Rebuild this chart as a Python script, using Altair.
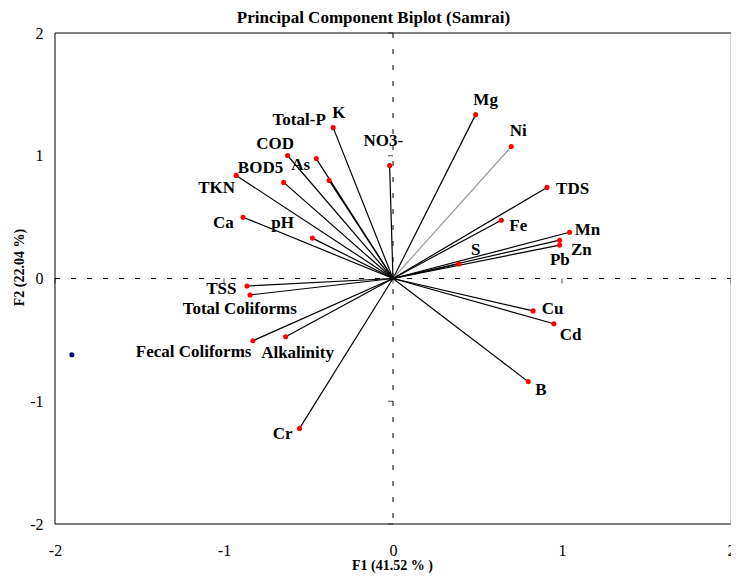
import altair as alt
import pandas as pd

# ---- data ----
names = ["K", "Total-P", "As", "COD", "BOD5", "TKN", "Ca", "pH", "NO3-",
         "Mg", "Ni", "TDS", "Fe", "Mn", "Zn", "Pb", "S",
         "TSS", "Total Coliforms", "Fecal Coliforms", "Alkalinity", "Cr",
         "Cu", "Cd", "B"]
f1 = [-0.354, -0.454, -0.378, -0.624, -0.647, -0.928, -0.887, -0.477, -0.020,
      0.489, 0.700, 0.911, 0.641, 1.045, 0.986, 0.986, 0.389,
      -0.864, -0.846, -0.829, -0.635, -0.553,
      0.829, 0.952, 0.800]
f2 = [1.229, 0.977, 0.799, 1.002, 0.783, 0.840, 0.499, 0.329, 0.921,
      1.335, 1.075, 0.742, 0.475, 0.377, 0.312, 0.272, 0.118,
      -0.061, -0.134, -0.507, -0.475, -1.221,
      -0.264, -0.369, -0.840]
label_f1 = [-0.321, -0.555, -0.546, -0.698, -0.784, -1.044, -1.004, -0.653, -0.057,
            0.548, 0.741, 1.063, 0.741, 1.151, 1.114, 0.987, 0.489,
            -1.016, -0.907, -1.180, -0.565, -0.653,
            0.944, 1.051, 0.876]
label_f2 = [1.351, 1.292, 0.923, 1.094, 0.897, 0.737, 0.450, 0.450, 1.121,
            1.451, 1.205, 0.726, 0.426, 0.394, 0.231, 0.153, 0.231,
            -0.083, -0.247, -0.602, -0.610, -1.270,
            -0.245, -0.461, -0.907]
obs_f1 = [-1.900]
obs_f2 = [-0.621]
ticks = [-2, -1, 0, 1, 2]

vars_df = pd.DataFrame({"name": names, "f1": f1, "f2": f2,
                        "lx": label_f1, "ly": label_f2})
obs_df = pd.DataFrame({"f1": obs_f1, "f2": obs_f2})
tick_df = pd.DataFrame({"v": ticks})
one = pd.DataFrame({"a": [0]})

W, H = 676, 491
FONT = "Liberation Serif"

xs = alt.Scale(domain=[-2, 2], nice=False, zero=False)
ys = alt.Scale(domain=[-2, 2], nice=False, zero=False)

xaxis = alt.Axis(values=ticks, labelExpr="'' + datum.value", title="F1 (41.52 % )",
                 labelFlush=False, labelOverlap=False, labelBound=False, labelPadding=18,
                 titleX=337, titleY=41, titleBaseline="middle")
yaxis = alt.Axis(values=ticks, labelExpr="'' + datum.value", title="F2 (22.04 %)",
                 labelFlush=False, labelOverlap=False, labelBound=False, labelPadding=12,
                 titleX=-36, titleY=234, titleBaseline="middle")

base = alt.Chart(vars_df)

lines = base.mark_rule(strokeWidth=1.2).encode(
    x=alt.X("f1:Q", scale=xs, axis=xaxis),
    y=alt.Y("f2:Q", scale=ys, axis=yaxis),
    x2=alt.datum(0),
    y2=alt.datum(0),
    color=alt.condition(alt.datum.name == "Ni", alt.value("#9a9a9a"), alt.value("black")),
)

dots = base.mark_circle(size=26, opacity=1, color="#ff0000").encode(
    x=alt.X("f1:Q"), y=alt.Y("f2:Q"))

labels = base.mark_text(font=FONT, fontSize=17, fontWeight="bold", color="black",
                        align="center", baseline="middle").encode(
    x=alt.X("lx:Q"), y=alt.Y("ly:Q"), text="name:N")

obs = alt.Chart(obs_df).mark_circle(size=26, opacity=1, color="#000080").encode(
    x="f1:Q", y="f2:Q")

vdash = alt.Chart(one).mark_rule(strokeDash=[5, 11], color="black", strokeWidth=1).encode(
    x=alt.datum(0), y=alt.datum(2), y2=alt.datum(-2))
hdash = alt.Chart(one).mark_rule(strokeDash=[5, 11], color="black", strokeWidth=1).encode(
    y=alt.datum(0), x=alt.datum(-2), x2=alt.datum(2))

vticks = alt.Chart(tick_df).mark_tick(orient="horizontal", size=5, thickness=1,
                                      color="black", xOffset=-2.5).encode(
    x=alt.datum(0), y="v:Q")
hticks = alt.Chart(tick_df).mark_tick(orient="vertical", size=5, thickness=1,
                                      color="black", yOffset=2.5).encode(
    y=alt.datum(0), x="v:Q")

frame_top = alt.Chart(one).mark_rule(color="black").encode(
    x=alt.value(0), x2=alt.value(W), y=alt.value(0))
frame_bottom = alt.Chart(one).mark_rule(color="black").encode(
    x=alt.value(0), x2=alt.value(W), y=alt.value(H))
frame_left = alt.Chart(one).mark_rule(color="black").encode(
    x=alt.value(0), y=alt.value(0), y2=alt.value(H))
frame_right = alt.Chart(one).mark_rule(color="#a0a0a0").encode(
    x=alt.value(W), y=alt.value(0), y2=alt.value(H))

chart = alt.layer(
    vdash, hdash, vticks, hticks, lines, dots, obs, labels,
    frame_top, frame_bottom, frame_left, frame_right,
).properties(
    width=W, height=H,
    title=alt.TitleParams("Principal Component Biplot (Samrai)", font=FONT,
                          fontSize=17, fontWeight="bold", color="black",
                          anchor="middle", frame="bounds", offset=2, dy=4),
    autosize=alt.AutoSizeParams(type="none"),
    padding={"left": 47, "top": 25, "right": 0, "bottom": 49},
).configure_view(stroke=None).configure_axis(
    grid=False, domain=False, ticks=False, tickSize=0,
    labelFont=FONT, labelFontSize=16, labelColor="black",
    titleFont=FONT, titleFontSize=14, titleFontWeight="bold", titleColor="black",
)

chart.save("out.html", embed_options={"renderer": "svg", "actions": False})
